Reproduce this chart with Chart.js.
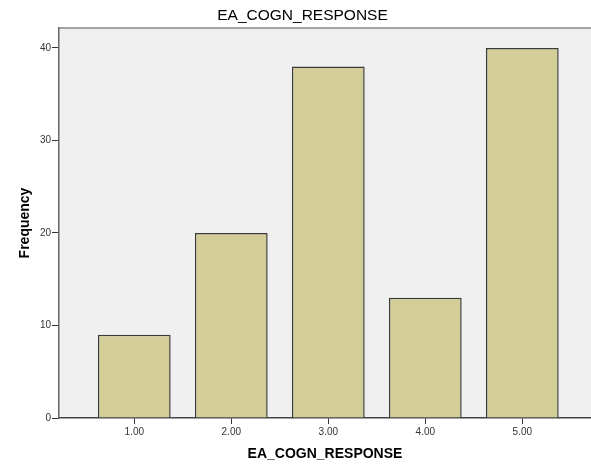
<!DOCTYPE html>
<html>
<head>
<meta charset="utf-8">
<script src="https://cdn.jsdelivr.net/npm/chart.js@4/dist/chart.umd.min.js"></script>
<style>
  html, body { margin: 0; padding: 0; background: #ffffff; }
  #wrap { width: 591px; height: 465px; }
</style>
</head>
<body>
<div id="wrap"><canvas id="c" width="591" height="465"></canvas></div>
<script>
// ---- data ----
const chartTitle = "EA_COGN_RESPONSE";
const xAxisTitle = "EA_COGN_RESPONSE";
const yAxisTitle = "Frequency";
const categories = [1, 2, 3, 4, 5];
const frequencies = [9, 20, 38, 13, 40];
const yTicks = [0, 10, 20, 30, 40];
const xRange = [0.224, 5.708];
const yRange = [0, 42.16];

const FONT = "'Liberation Sans', Arial, sans-serif";

const plotBg = {
  id: 'plotBg',
  beforeDraw(chart) {
    const {ctx, chartArea: a} = chart;
    ctx.save();
    ctx.fillStyle = '#F0F0F0';
    ctx.fillRect(a.left, a.top, a.right - a.left, a.bottom - a.top);
    ctx.strokeStyle = '#A4A4A4';
    ctx.lineWidth = 2;
    ctx.beginPath();
    ctx.moveTo(a.left, a.top);
    ctx.lineTo(a.right, a.top);
    ctx.stroke();
    ctx.restore();
  },
  afterDraw(chart) {
    const ctx = chart.ctx;
    ctx.save();
    ctx.fillStyle = '#000';
    ctx.font = "normal 15.5px " + FONT;
    ctx.textAlign = 'center';
    ctx.textBaseline = 'middle';
    ctx.fillText(chartTitle, 302.5, 16);
    ctx.restore();
  }
};

new Chart(document.getElementById('c'), {
  type: 'bar',
  data: {
    datasets: [{
      data: categories.map((c, i) => ({ x: c, y: frequencies[i] })),
      backgroundColor: '#D3CE97',
      borderColor: '#3A3A3A',
      borderWidth: 1.5,
      barPercentage: 0.75,
      categoryPercentage: 1.0
    }]
  },
  plugins: [plotBg],
  options: {
    responsive: false,
    animation: false,
    layout: { padding: { top: 28, left: 0, right: 0, bottom: 0 } },
    plugins: {
      legend: { display: false },
      tooltip: { enabled: false },
      title: { display: false }
    },
    scales: {
      x: {
        type: 'linear',
        offset: false,
        min: xRange[0],
        max: xRange[1],
        afterBuildTicks(scale) { scale.ticks = categories.map(v => ({ value: v })); },
        afterFit(scale) { scale.height = 47; },
        grid: { display: true, drawOnChartArea: false, drawTicks: true, tickLength: 6, tickColor: '#333', offset: false },
        border: { display: true, color: '#444', width: 1.5 },
        ticks: {
          color: '#333',
          padding: 2,
          maxRotation: 0,
          font: { family: FONT, size: 10 },
          callback: v => Number(v).toFixed(2)
        },
        title: {
          display: true,
          text: xAxisTitle,
          color: '#000',
          font: { family: FONT, size: 14, weight: 'bold', lineHeight: 1.2 },
          padding: { top: 0, bottom: 2.2 }
        }
      },
      y: {
        type: 'linear',
        min: yRange[0],
        max: yRange[1],
        afterBuildTicks(scale) { scale.ticks = yTicks.map(v => ({ value: v })); },
        afterFit(scale) { scale.width = 59; },
        grid: { display: true, drawOnChartArea: false, drawTicks: true, tickLength: 7, tickColor: '#333' },
        border: { display: true, color: '#666', width: 1.5 },
        ticks: {
          color: '#333',
          padding: 1,
          font: { family: FONT, size: 10 }
        },
        title: {
          display: true,
          text: yAxisTitle,
          color: '#000',
          font: { family: FONT, size: 14, weight: 'bold', lineHeight: 1.2 },
          padding: { top: 16.5, bottom: 0 }
        }
      }
    }
  }
});
</script>
</body>
</html>
